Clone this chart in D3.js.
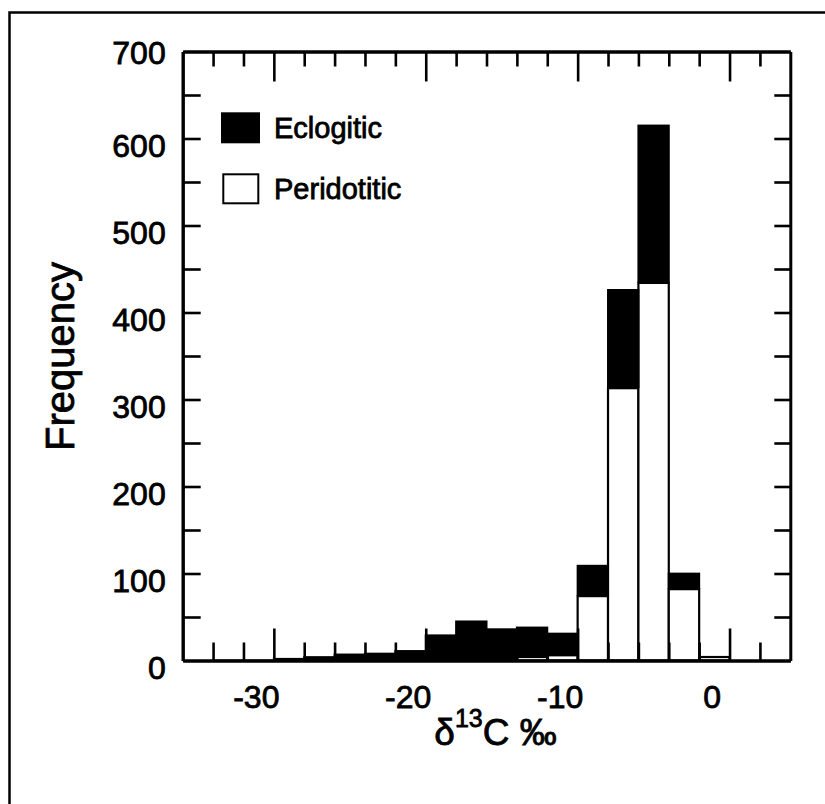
<!DOCTYPE html>
<html><head><meta charset="utf-8">
<script src="https://cdn.jsdelivr.net/npm/d3@7"></script>
<style>
body{margin:0;background:#fff}
svg{display:block}
text{font-family:"Liberation Sans",Arial,sans-serif;fill:#000;stroke:#000;stroke-width:0.8px}
</style>
</head><body>
<svg id="c" width="825" height="804"></svg>
<script>
// ---- data ----
const binStarts   = [-36,-34,-32,-30,-28,-26,-24,-22,-20,-18,-16,-14,-12,-10,-8,-6,-4,-2];
const binWidth    = 2;
const peridotitic = [0,0,0,0,0,0,0,0,0,0,1,4,6,74,313,434,82,4];
const eclogitic   = [0,1,1,3,5,8,9,12,30,46,36,35,26,36,114,182,19,0];
const xDomain     = [-36,4];
const yDomain     = [0,700];
const xMinorTicks = [-34,-32,-28,-26,-24,-22,-18,-16,-14,-12,-8,-6,-4,-2,2];
const xMajorTicks = [-30,-20,-10,0];
const yTicks      = [50,100,150,200,250,300,350,400,450,500,550,600,650];
const yLabels     = [0,100,200,300,400,500,600,700];
const seriesNames = ["Eclogitic","Peridotitic"];
const yTitle      = "Frequency";

// ---- layout ----
const svg = d3.select("#c");
const x = d3.scaleLinear().domain(xDomain).range([182.7, 790.3]);
const y = d3.scaleLinear().domain(yDomain).range([660.5, 51.5]);
const fmt = d => String(d);   // hyphen-minus as in the original

// outer frame (only top/left edges fall inside the picture)
svg.append("path").attr("d","M9.5,810 V12.5 H830")
  .attr("fill","none").attr("stroke","#000").attr("stroke-width",2.5);

// ---- bars ----
const rows = binStarts.map((b,i)=>({b, p:peridotitic[i], e:eclogitic[i]}));
const gBars = svg.append("g");
gBars.selectAll("rect.p").data(rows.filter(d=>d.p>0)).join("rect")
  .attr("class","p")
  .attr("x",d=>x(d.b)).attr("width",d=>x(d.b+binWidth)-x(d.b))
  .attr("y",d=>y(d.p)).attr("height",d=>y(0)-y(d.p))
  .attr("fill","#fff").attr("stroke","#000").attr("stroke-width",2.2);
gBars.selectAll("rect.e").data(rows.filter(d=>d.e>0)).join("rect")
  .attr("class","e")
  .attr("x",d=>x(d.b)-1).attr("width",d=>x(d.b+binWidth)-x(d.b)+2)
  .attr("y",d=>y(d.p+d.e)).attr("height",d=>y(d.p)-y(d.p+d.e))
  .attr("fill","#000");

// ---- axes ----
function styleAxis(g, w){
  g.selectAll(".domain").attr("stroke","#000").attr("stroke-width",w||3);
  g.selectAll(".tick line").attr("stroke","#000").attr("stroke-width",2.6);
}
// bottom
const gB1 = svg.append("g").attr("transform",`translate(0,${y(0)})`)
  .call(d3.axisBottom(x).tickValues(xMinorTicks).tickSize(-18).tickSizeOuter(0).tickFormat(""));
styleAxis(gB1);
const gB2 = svg.append("g").attr("transform",`translate(0,${y(0)})`)
  .call(d3.axisBottom(x).tickValues(xMajorTicks).tickSize(-32).tickSizeOuter(0).tickPadding(25).tickFormat(fmt));
styleAxis(gB2);
gB2.selectAll(".tick text").attr("x",-18).attr("font-size",32).attr("font-family",null);
// top
const gT1 = svg.append("g").attr("transform",`translate(0,${y(700)})`)
  .call(d3.axisTop(x).tickValues(xMinorTicks).tickSize(-15).tickSizeOuter(0).tickFormat(""));
styleAxis(gT1);
const gT2 = svg.append("g").attr("transform",`translate(0,${y(700)})`)
  .call(d3.axisTop(x).tickValues(xMajorTicks).tickSize(-30).tickSizeOuter(0).tickFormat(""));
styleAxis(gT2);
// left
const gL1 = svg.append("g").attr("transform",`translate(${x(xDomain[0])},0)`)
  .call(d3.axisLeft(y).tickValues(yTicks).tickSize(-18).tickSizeOuter(0).tickFormat(""));
styleAxis(gL1);
const gL2 = svg.append("g").attr("transform",`translate(${x(xDomain[0])},0)`)
  .call(d3.axisLeft(y).tickValues(yLabels).tickSize(0).tickSizeOuter(0).tickPadding(17).tickFormat(fmt));
styleAxis(gL2);
gL2.selectAll(".tick text").attr("font-size",32).attr("font-family",null)
  .attr("dy", d => d===yDomain[1] ? "0.37em" : "0.56em");
// right
const gR = svg.append("g").attr("transform",`translate(${x(xDomain[1])},0)`)
  .call(d3.axisRight(y).tickValues(yTicks).tickSize(-16).tickSizeOuter(0).tickFormat(""));
styleAxis(gR);

// ---- titles ----
svg.append("text")
  .attr("transform",`translate(73.6,${(y(0)+y(700))/2+0.5}) rotate(-90)`)
  .attr("text-anchor","middle").attr("font-size",40).text(yTitle);

const xt = svg.append("text").attr("x",(x(xDomain[0])+x(xDomain[1]))/2+9).attr("y",745)
  .attr("text-anchor","middle").attr("font-size",37);
xt.append("tspan").text("δ");
xt.append("tspan").attr("font-size",25).attr("dy",-18).text("13");
xt.append("tspan").attr("dy",18).text("C ‰");

// ---- legend ----
const legendY = [112.3, 173.3];
const lg = svg.append("g");
lg.append("rect").attr("x",221).attr("y",legendY[0]).attr("width",39).attr("height",31).attr("fill","#000");
lg.append("rect").attr("x",223.3).attr("y",legendY[1]+1).attr("width",35).attr("height",29)
  .attr("fill","#fff").attr("stroke","#000").attr("stroke-width",2);
lg.selectAll("text").data(seriesNames).join("text")
  .attr("x",274).attr("y",(d,i)=>legendY[i]+26)
  .attr("font-size",29).text(d=>d);
</script>
</body></html>
